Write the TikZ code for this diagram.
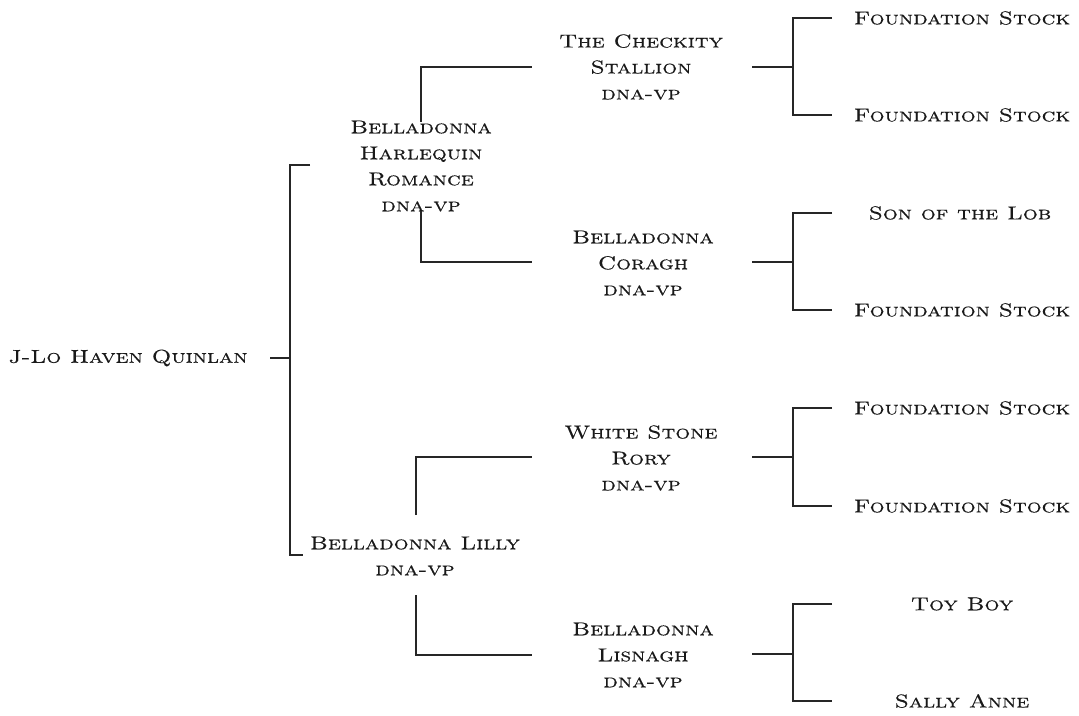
\documentclass[tikz,border=0pt]{standalone}
\usepackage{fontspec}
\setmainfont{lmroman10-regular.otf}[FakeStretch=1.25, FakeBold=0.4, SmallCapsFont=lmromancaps10-regular.otf, SmallCapsFeatures={FakeStretch=1.25, FakeBold=0.4}]
\begin{document}
\begin{tikzpicture}[x=0.75pt,y=-0.75pt,
  lbl/.style={inner sep=0pt, align=center, text=black!90, font=\fontsize{14}{19.5}\selectfont\scshape},
  ln/.style={draw=black!85, line width=1pt}]
\useasboundingbox (0,0) rectangle (1079,715);
% texts
\node[lbl] (root) at (128,358) {J-Lo Haven Quinlan};
\node[lbl] (p1) at (421,166) {Belladonna\\Harlequin\\Romance\\dna-vp};
\node[lbl] (p2) at (415,556) {Belladonna Lilly\\dna-vp};
\node[lbl] (g1) at (641,67) {The Checkity\\Stallion\\dna-vp};
\node[lbl] (g2) at (643,263) {Belladonna\\Coragh\\dna-vp};
\node[lbl] (g3) at (641,458) {White Stone\\Rory\\dna-vp};
\node[lbl] (g4) at (643,655) {Belladonna\\Lisnagh\\dna-vp};
\node[lbl] (f1) at (962,18) {Foundation Stock};
\node[lbl] (f2) at (962,115) {Foundation Stock};
\node[lbl] (f3) at (960,213) {Son of the Lob};
\node[lbl] (f4) at (962,310) {Foundation Stock};
\node[lbl] (f5) at (962,408) {Foundation Stock};
\node[lbl] (f6) at (962,506) {Foundation Stock};
\node[lbl] (f7) at (962,604) {Toy Boy};
\node[lbl] (f8) at (962,701) {Sally Anne};
% coordinates
\coordinate (r0) at (270,358);
\coordinate (rj) at (290,358);
\coordinate (rt) at (310,165);
\coordinate (rb) at (303,555);
\coordinate (p1t) at (421,122);
\coordinate (p1b) at (421,211);
\coordinate (p2t) at (416,515);
\coordinate (p2b) at (416,595);
\coordinate (g1w) at (532,67);
\coordinate (g2w) at (532,262);
\coordinate (g3w) at (532,457);
\coordinate (g4w) at (532,655);
\coordinate (g1e) at (752,67);
\coordinate (g2e) at (752,262);
\coordinate (g3e) at (752,457);
\coordinate (g4e) at (752,654);
\coordinate (f1w) at (832,18);
\coordinate (f2w) at (832,115);
\coordinate (f3w) at (832,213);
\coordinate (f4w) at (832,310);
\coordinate (f5w) at (832,408);
\coordinate (f6w) at (832,506);
\coordinate (f7w) at (832,604);
\coordinate (f8w) at (832,701);
% connectors
\draw[ln] (r0) -- (rj);
\draw[ln] (rt) -| (rj) |- (rb);
\draw[ln] (p1t) |- (g1w);
\draw[ln] (p1b) |- (g2w);
\draw[ln] (p2t) |- (g3w);
\draw[ln] (p2b) |- (g4w);
\draw[ln] (g1e) -- ++(41,0);
\draw[ln] (f1w) -| (793,67) |- (f2w);
\draw[ln] (g2e) -- ++(41,0);
\draw[ln] (f3w) -| (793,262) |- (f4w);
\draw[ln] (g3e) -- ++(41,0);
\draw[ln] (f5w) -| (793,457) |- (f6w);
\draw[ln] (g4e) -- ++(41,0);
\draw[ln] (f7w) -| (793,654) |- (f8w);
\end{tikzpicture}
\end{document}
